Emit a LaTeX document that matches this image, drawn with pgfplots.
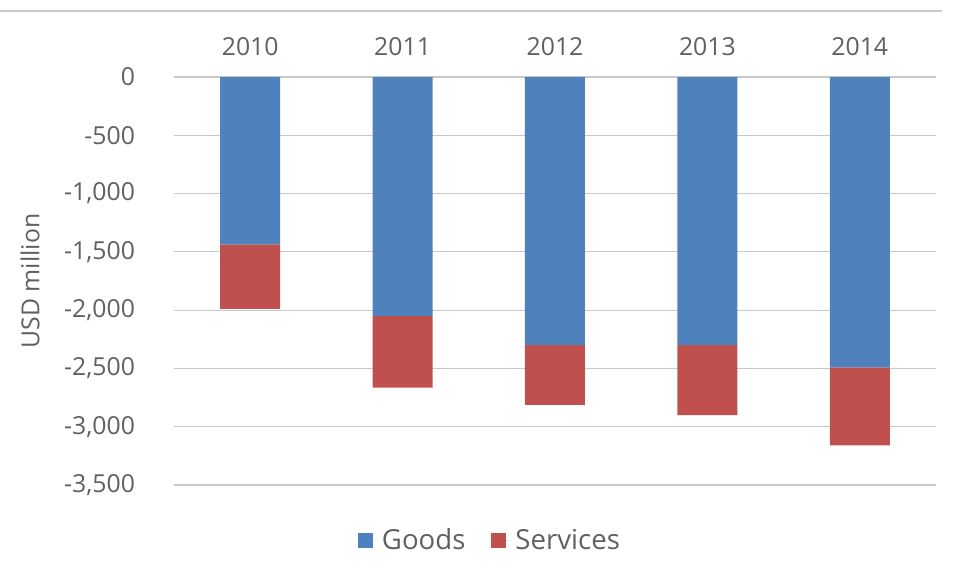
\documentclass[border=0pt]{standalone}
\usepackage{fontspec}
\setmainfont{Open Sans}
\usepackage{pgfplots}
\pgfplotsset{compat=1.18}
\definecolor{goods}{HTML}{4F81BD}
\definecolor{serv}{HTML}{C0504D}
\definecolor{txt}{HTML}{606060}
\definecolor{gridc}{HTML}{C8C8C8}
\begin{document}
\begin{tikzpicture}
\path[use as bounding box] (-87pt,-47.5pt) rectangle (390.5pt,242.5pt);
\draw[gridc, line width=1pt] (-87pt,237pt) -- (384pt,237pt);
\begin{axis}[
  at={(0,0)}, anchor=south west,
  scale only axis,
  width=381pt, height=204pt,
  ybar stacked,
  bar width=30pt,
  xmin=-0.5, xmax=4.5,
  ymin=-3500, ymax=0,
  xtick=data,
  xticklabels={2010,2011,2012,2013,2014},
  xticklabel pos=upper,
  ytick={-3500,-3000,-2500,-2000,-1500,-1000,-500,0},
  axis line style={draw=none},
  major tick length=0pt,
  ymajorgrids,
  grid style={gridc, line width=0.6pt},
  font=\fontsize{12.4pt}{14pt}\selectfont,
  tick label style={text=txt},
  x tick label style={yshift=7pt},
  y tick label style={xshift=-16pt},
  /pgf/number format/assume math mode=true,
  /pgf/number format/1000 sep={,},
  scaled y ticks=false,
  ylabel={USD million},
  ylabel style={text=txt, at={([xshift=-72pt]axis description cs:0,0.5)}, anchor=center},
  legend columns=2,
  legend style={at={(0.416,-0.137)}, anchor=center, draw=none, fill=none,
    text=txt, font=\fontsize{13.8pt}{15pt}\selectfont,
    /tikz/every even column/.append style={column sep=11pt}},
  legend image code/.code={\fill[#1] (0pt,-3.75pt) rectangle (7.5pt,3.75pt); \path (0pt,0pt) -- (10pt,0pt);},
]
\addplot[fill=goods, draw=none] coordinates {(0,-1435) (1,-2050) (2,-2300) (3,-2300) (4,-2490)};
\addplot[fill=serv, draw=none] coordinates {(0,-555) (1,-615) (2,-513) (3,-600) (4,-670)};
\legend{Goods,Services}
\end{axis}
\end{tikzpicture}
\end{document}
